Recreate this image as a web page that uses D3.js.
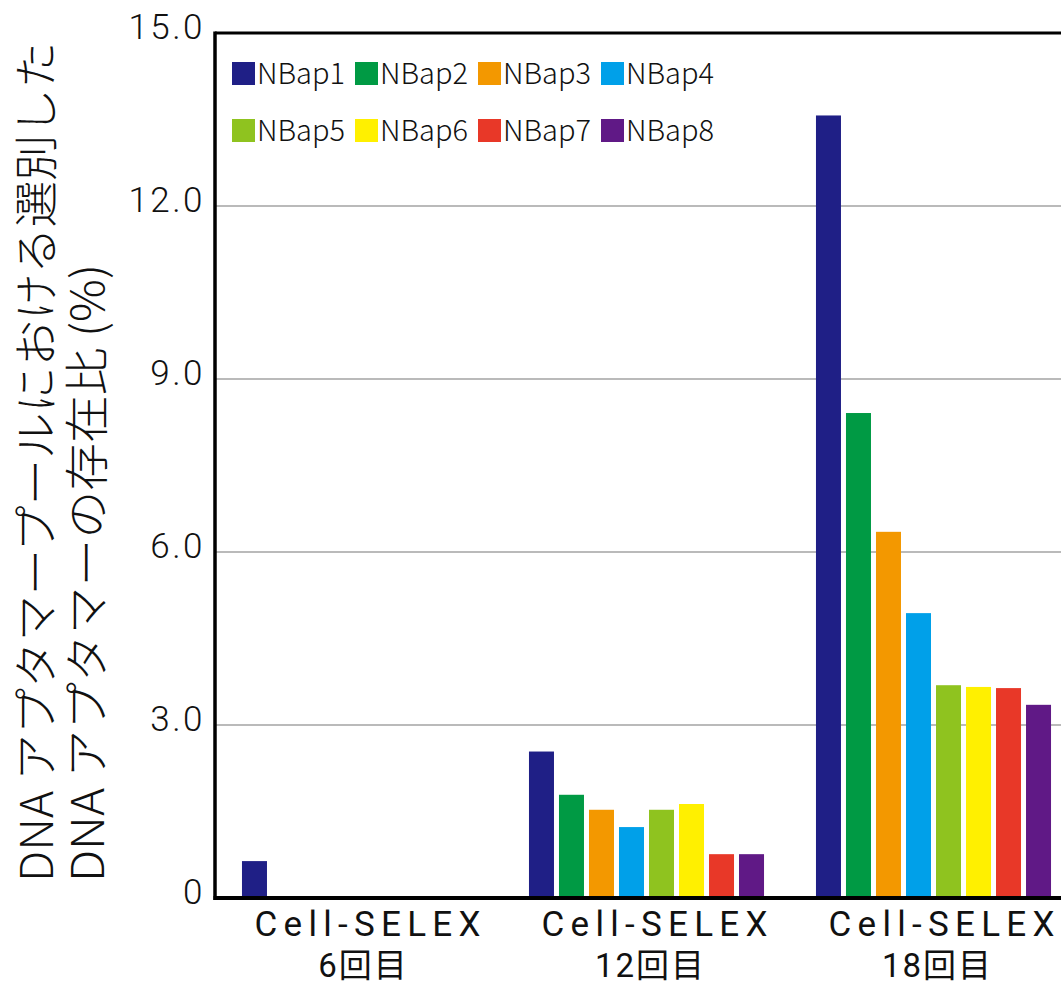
<!DOCTYPE html>
<html>
<head>
<meta charset="utf-8">
<script src="https://cdn.jsdelivr.net/npm/d3@7/dist/d3.min.js"></script>
<style>
  html, body { margin: 0; padding: 0; background: #fff; }
  svg { display: block; }
  text { font-family: "Noto Sans CJK JP", "Noto Sans", sans-serif; fill: #111; }
</style>
</head>
<body>
<svg id="chart" width="1061" height="992"></svg>
<script>
// Selection rounds (x categories), split into two label lines
const rounds = ["6回目", "12回目", "18回目"];
const roundPrefix = "Cell-SELEX";

// Aptamer series and their colours
const aptamers = ["NBap1", "NBap2", "NBap3", "NBap4", "NBap5", "NBap6", "NBap7", "NBap8"];
const colors = ["#1f1f86", "#009a44", "#f39800", "#00a0e9", "#8fc31f", "#fff000", "#e83828", "#601986"];

// Abundance (%) per aptamer, one value per round
const nbap1 = [0.64, 2.54, 13.57];
const nbap2 = [0, 1.79, 8.41];
const nbap3 = [0, 1.53, 6.35];
const nbap4 = [0, 1.23, 4.94];
const nbap5 = [0, 1.53, 3.69];
const nbap6 = [0, 1.63, 3.66];
const nbap7 = [0, 0.76, 3.64];
const nbap8 = [0, 0.76, 3.35];
const seriesValues = [nbap1, nbap2, nbap3, nbap4, nbap5, nbap6, nbap7, nbap8];

// Y axis ticks and their printed labels
const yTicks = [0, 3, 6, 9, 12, 15];
const yTickLabels = ["0", "3.0", "6.0", "9.0", "12.0", "15.0"];

// Y axis title lines
const yTitle = ["DNA アプタマープールにおける選別した", "DNA アプタマーの存在比 (%)"];

const svg = d3.select("#chart");
const plotL = 215, plotT = 33, plotB = 898, plotR = 1078;
const latinFont = "Roboto, 'Noto Sans CJK JP', sans-serif";

const y = d3.scaleLinear().domain([0, 15]).range([plotB, plotT]);
const x0 = d3.scaleBand().domain(rounds).range([plotL, plotR])
  .paddingInner(0.181).paddingOuter(0.094);
const x1 = d3.scaleBand().domain(aptamers).range([0, x0.bandwidth()])
  .paddingInner(0.1667).paddingOuter(0);
const color = d3.scaleOrdinal().domain(aptamers).range(colors);

// Horizontal gridlines
svg.append("g")
  .selectAll("line")
  .data(yTicks.filter(t => t > 0 && t < 15))
  .join("line")
  .attr("x1", plotL).attr("x2", plotR)
  .attr("y1", d => y(d)).attr("y2", d => y(d))
  .attr("stroke", "#777").attr("stroke-width", 1.2);

// Bars
const rows = [];
aptamers.forEach((a, i) => {
  rounds.forEach((r, j) => rows.push({ apt: a, round: r, value: seriesValues[i][j] }));
});
svg.append("g")
  .selectAll("rect")
  .data(rows.filter(d => d.value > 0))
  .join("rect")
  .attr("x", d => x0(d.round) + x1(d.apt))
  .attr("width", x1.bandwidth())
  .attr("y", d => y(d.value))
  .attr("height", d => y(0) - y(d.value))
  .attr("fill", d => color(d.apt));

// Frame: top border, left axis, baseline
svg.append("line").attr("x1", plotL).attr("x2", plotR).attr("y1", plotT).attr("y2", plotT)
  .attr("stroke", "#000").attr("stroke-width", 3);
svg.append("line").attr("x1", plotL).attr("x2", plotL).attr("y1", plotT - 1.5).attr("y2", plotB + 2)
  .attr("stroke", "#000").attr("stroke-width", 3.5);
svg.append("line").attr("x1", plotL - 1.5).attr("x2", plotR).attr("y1", plotB).attr("y2", plotB)
  .attr("stroke", "#000").attr("stroke-width", 4);

// Y axis tick labels
const yAxis = d3.axisLeft(y).tickValues(yTicks).tickSize(0).tickPadding(10)
  .tickFormat((d, i) => yTickLabels[i]);
const gy = svg.append("g").attr("transform", `translate(${plotL},0)`).call(yAxis);
gy.select(".domain").remove();
gy.selectAll("text")
  .attr("dy", "0.15em")
  .style("font-family", latinFont)
  .style("font-size", "35px")
  .style("font-weight", 300)
  .style("letter-spacing", "2.5px")
  .attr("fill", "#111");

// X axis category labels
const gx = svg.append("g");
rounds.forEach(r => {
  const cx = x0(r) + x0.bandwidth() / 2 + 8;
  gx.append("text").attr("x", cx).attr("y", 936)
    .attr("text-anchor", "middle")
    .attr("textLength", 226).attr("lengthAdjust", "spacing")
    .style("font-family", latinFont)
    .style("font-size", "35px").style("font-weight", 400)
    .text(roundPrefix);
  gx.append("text").attr("x", cx - 4).attr("y", 977)
    .attr("text-anchor", "middle")
    .style("font-family", latinFont)
    .style("font-size", "33px").style("font-weight", 400)
    .style("letter-spacing", "2px")
    .text(r);
});

// Y axis title (two rotated lines)
const titleX = [53, 104];
const titleLen = [840, 618];
yTitle.forEach((t, i) => {
  svg.append("text")
    .attr("transform", `translate(${titleX[i]},${882}) rotate(-90)`)
    .attr("x", 0).attr("y", 0)
    .attr("textLength", titleLen[i]).attr("lengthAdjust", "spacingAndGlyphs")
    .style("font-size", "45px").style("font-weight", 300)
    .text(t);
});

// Legend: two rows of four
const legend = svg.append("g");
aptamers.forEach((a, i) => {
  const col = i % 4, row = Math.floor(i / 4);
  const lx = 232 + col * 123, ly = 62 + row * 57;
  legend.append("rect").attr("x", lx).attr("y", ly).attr("width", 23).attr("height", 23)
    .attr("fill", color(a));
  legend.append("text").attr("x", lx + 25).attr("y", ly + 22)
    .style("font-size", "29px").style("font-weight", 300)
    .text(a);
});
</script>
</body>
</html>
